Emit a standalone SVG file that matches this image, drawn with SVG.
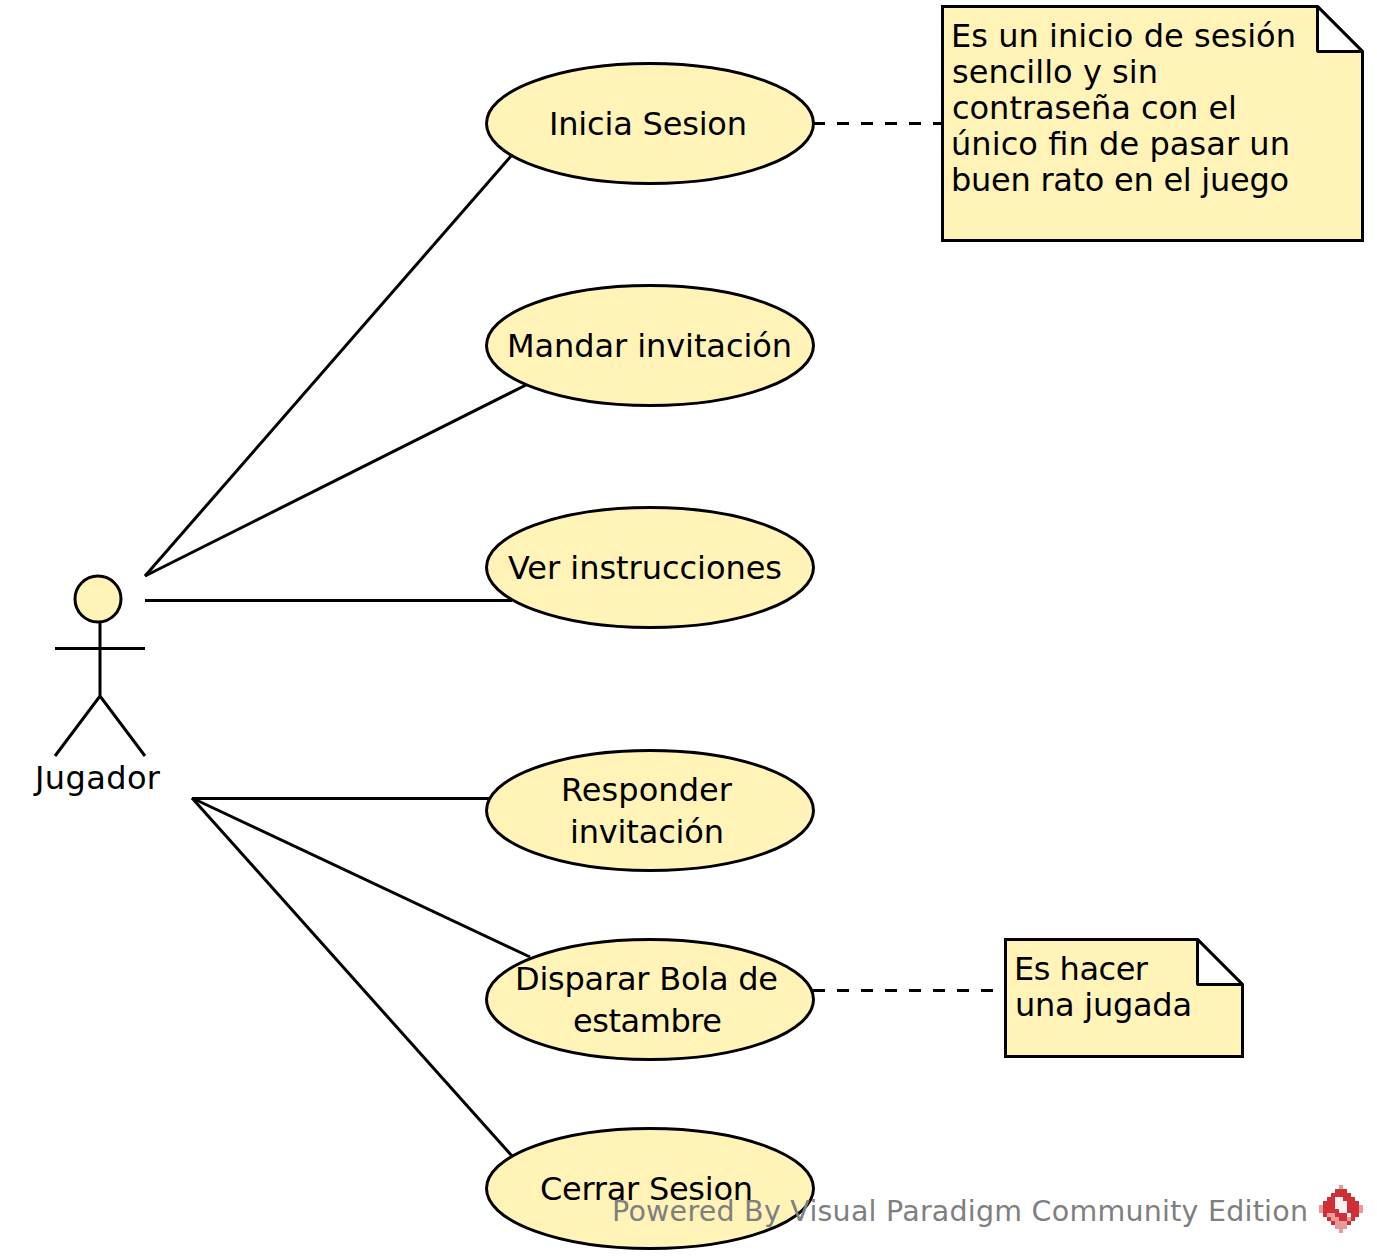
<svg xmlns="http://www.w3.org/2000/svg" width="1377" height="1260" viewBox="0 0 1377 1260">
<style>
text{font-family:"DejaVu Sans",sans-serif;font-size:32px;fill:#000}
.s{fill:#fff3b8;stroke:#000;stroke-width:3}
.f{fill:#fff;stroke:#000;stroke-width:3;stroke-linejoin:bevel}
.l{fill:none;stroke:#000;stroke-width:3}
.d{fill:none;stroke:#000;stroke-width:3;stroke-dasharray:12 12}
.w{fill:#7f7f7f;font-size:28.5px}
</style>
<rect width="1377" height="1260" fill="#fff"/>
<g id="connectors">
<path class="l" d="M145 576L512 155"/>
<path class="l" d="M145 576L526 385"/>
<path class="l" d="M145 600.500H512"/>
<path class="l" d="M192 798.500H490"/>
<path class="l" d="M192 798L530 957"/>
<path class="l" d="M192 798L512 1156"/>
<path class="d" d="M813 123.500H942"/>
<path class="d" d="M813 990.500H1005"/>
</g>
<g id="actor-jugador">
<circle class="s" cx="98" cy="599" r="23"/>
<path class="l" d="M100 622V696M55 648.500H145M55 756L100 696L145 756"/>
<text x="35" y="789" textLength="125">Jugador</text>
</g>
<g id="uc-inicia">
<ellipse class="s" cx="650" cy="123.500" rx="163.500" ry="60"/>
<text x="549" y="135" textLength="198">Inicia Sesion</text>
</g>
<g id="uc-mandar">
<ellipse class="s" cx="650" cy="345.500" rx="163.500" ry="60"/>
<text x="507" y="357" textLength="285">Mandar invitación</text>
</g>
<g id="uc-ver">
<ellipse class="s" cx="650" cy="567.500" rx="163.500" ry="60"/>
<text x="508" y="579" textLength="274">Ver instrucciones</text>
</g>
<g id="uc-responder">
<ellipse class="s" cx="650" cy="810.500" rx="163.500" ry="60"/>
<text x="561" y="801" textLength="171">Responder</text>
<text x="570" y="843" textLength="154">invitación</text>
</g>
<g id="uc-disparar">
<ellipse class="s" cx="650" cy="999.500" rx="163.500" ry="60"/>
<text x="515" y="990" textLength="263">Disparar Bola de</text>
<text x="573" y="1032" textLength="149">estambre</text>
</g>
<g id="uc-cerrar">
<ellipse class="s" cx="650" cy="1188.500" rx="163.500" ry="60"/>
<text x="540" y="1200" textLength="213">Cerrar Sesion</text>
</g>
<g id="note-inicio">
<path class="s" d="M942.500 6.500H1317.500L1362.500 51.500V240.500H942.500Z"/>
<path class="f" d="M1317.500 6.500L1362.500 51.500H1317.500Z"/>
<text x="951" y="47" textLength="345">Es un inicio de sesión</text>
<text x="952" y="83" textLength="206">sencillo y sin</text>
<text x="952" y="119" textLength="285">contraseña con el</text>
<text x="951" y="155" textLength="339">único fin de pasar un</text>
<text x="951" y="191" textLength="338">buen rato en el juego</text>
</g>
<g id="note-jugada">
<path class="s" d="M1005.500 939.500H1197.500L1242.500 984.500V1056.500H1005.500Z"/>
<path class="f" d="M1197.500 939.500L1242.500 984.500H1197.500Z"/>
<text x="1014" y="980" textLength="134">Es hacer</text>
<text x="1015" y="1016" textLength="177">una jugada</text>
</g>
<g id="watermark">
<text class="w" x="612" y="1221" textLength="696">Powered By Visual Paradigm Community Edition</text>
<path fill="#cf3035" d="M1335 1189h12v4h-12zM1331 1193h20v4h-20zM1327 1197h28v4h-28zM1323 1201h36v4h-36zM1323 1205h36v4h-36zM1323 1209h36v4h-36zM1323 1213h36v4h-36zM1327 1217h28v4h-28zM1331 1221h20v4h-20z"/>
<path fill="#e69a9c" d="M1339 1185h4v4h-4zM1319 1205h4v8h-4zM1359 1205h4v8h-4zM1327 1213h8v4h-8zM1331 1217h8v4h-8zM1335 1221h12v4h-12zM1335 1225h12v4h-12zM1339 1229h4v4h-4zM1347 1217h4v4h-4z"/>
<path fill="#fdf0f0" d="M1335 1197h8v4h-8zM1335 1201h12v4h-12zM1335 1205h12v4h-12zM1339 1209h8v4h-8zM1347 1213h4v4h-4z"/>
</g>
</svg>
